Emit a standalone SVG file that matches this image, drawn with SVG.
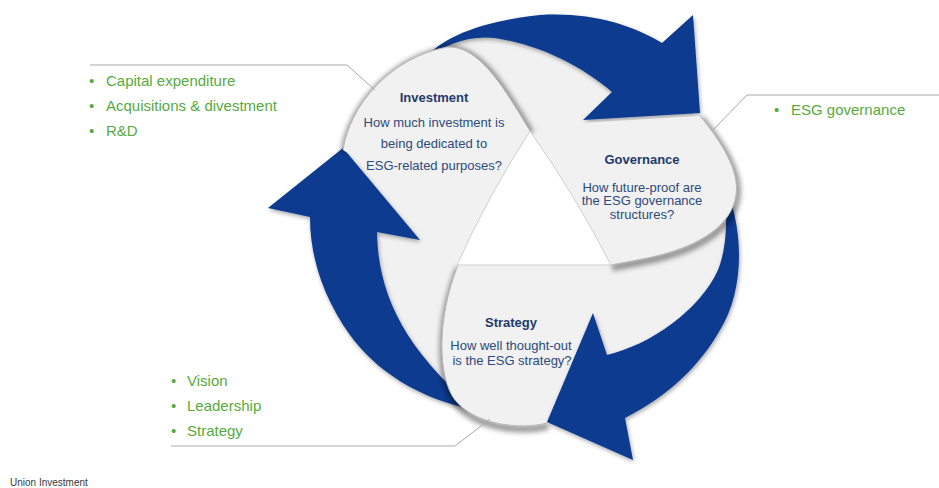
<svg xmlns="http://www.w3.org/2000/svg" width="939" height="488" viewBox="0 0 939 488">
  <style>
    .blue { fill: #0a3a90; filter: url(#arrowShadow); }
    .gray { fill: #f1f1f1; }
    .fold-shadow { fill: none; stroke: #000; stroke-opacity: 0.4; stroke-width: 7; filter: url(#soft); }
    .fold-edge { fill: none; stroke: #b9b9b9; stroke-width: 1; }
    .hole { fill: #ffffff; stroke: #cfcfcf; stroke-width: 1; }
    .lead { fill: none; stroke: #a9a9a9; stroke-width: 1; }
    text { font-family: "Liberation Sans", Arial, sans-serif; }
    .title { font-size: 13px; font-weight: bold; fill: #1f3a6e; text-anchor: middle; }
    .q { font-size: 13px; fill: #2c4a7e; text-anchor: middle; }
    .item { font-size: 15px; fill: #56ab3d; }
    .brand { font-size: 10px; fill: #3a3a3a; }
  </style>
  <defs>
    <filter id="soft" x="-20%" y="-20%" width="140%" height="140%">
      <feGaussianBlur stdDeviation="2.5"/>
    </filter>
    <filter id="arrowShadow" x="-10%" y="-10%" width="120%" height="120%">
      <feDropShadow dx="1" dy="2" stdDeviation="2" flood-color="#000" flood-opacity="0.35"/>
    </filter>
  </defs>

  <!-- gray body of the cycle, underneath everything -->
  <g id="cycle-base">
    <path class="gray" d="M405,70 L470,32 L540,30 L610,40 L660,70 L690,105 L722,180 L734,250 L715,320 L660,375 L600,405 L540,421 L475,413 L430,385 L385,340 L350,290 L343,230 L330,205 L343,158 L370,100 Z"/>
  </g>

  <!-- left arrow: from the strategy fold up to investment -->
  <g id="arrow-left">
    <path class="blue" d="M343,148 L420,240 L377,232 C378,290 400,345 476,410 C420,400 375,370 350,335 C325,300 310,260 310,217 L268,208 Z"/>
  </g>

  <!-- Strategy fold -->
  <g id="node-strategy">
    <path class="fold-shadow" transform="translate(1,3)" d="M547,423 C520,430 475,425 455,400 C438,378 436,320 458,265"/>
    <path class="gray" d="M458,265 L640,263 L700,246 L728,236 L736,262 L712,330 L640,392 L560,420 L547,423 C520,430 475,425 455,400 C438,378 436,320 458,265 Z"/>
    <path class="fold-edge" d="M547,423 C520,430 475,425 455,400 C438,378 436,320 458,265"/>
    <text class="title" x="511" y="327">Strategy</text>
    <text class="q" x="511" y="349.5">How well thought-out</text>
    <text class="q" x="512" y="364.5">is the ESG strategy?</text>
  </g>

  <!-- right arrow: from governance down to strategy -->
  <g id="arrow-right">
    <path class="blue" d="M722,180 C745,225 745,290 720,330 C700,365 670,395 625,418 L633,460 L547,422 L593,313 L607,355 C650,345 700,310 718,270 C728,245 728,210 722,180 Z"/>
  </g>

  <!-- top arrow: from investment over to governance -->
  <g id="arrow-top">
    <path class="blue" d="M426,58 C440,40 475,22 540,15 C590,12 630,24 662,43 L693,15 L700,113 L583,120 L612,92 C580,65 540,45 495,38 C468,35 445,45 426,58 Z"/>
  </g>

  <!-- Governance fold -->
  <g id="node-governance">
    <path class="fold-shadow" transform="translate(1,2.5)" d="M700,116 C720,140 740,170 736,195 C732,225 700,245 660,255 C640,260 625,262 611,265"/>
    <path class="gray" d="M700,116 C720,140 740,170 736,195 C732,225 700,245 660,255 C640,260 625,262 611,265 Q575,195 530,131 L583,123 Z"/>
    <path class="fold-edge" d="M700,116 C720,140 740,170 736,195 C732,225 700,245 660,255 C640,260 625,262 611,265"/>
    <text class="title" x="642" y="164">Governance</text>
    <text class="q" x="642" y="191.5">How future-proof  are</text>
    <text class="q" x="642" y="205">the ESG governance</text>
    <text class="q" x="642" y="218.5">structures?</text>
  </g>

  <!-- Investment fold -->
  <g id="node-investment">
    <path class="fold-shadow" transform="translate(1,2)" d="M343,150 C350,105 390,58 447,47 C480,45 505,90 530,131"/>
    <path class="gray" d="M343,150 C350,105 390,58 447,47 C480,45 505,90 530,131 L480,222 L420,200 Z"/>
    <path class="fold-edge" d="M343,150 C350,105 390,58 447,47 C480,45 505,90 530,131"/>
    <text class="title" x="434" y="102">Investment</text>
    <text class="q" x="434" y="126.5">How much  investment  is</text>
    <text class="q" x="434" y="148">being dedicated to</text>
    <text class="q" x="434" y="169.5">ESG-related purposes?</text>
  </g>

  <!-- open triangle in the middle -->
  <g id="center">
    <path class="hole" d="M530,131 Q575,195 611,265 L457,265 Q488,196 530,131 Z"/>
  </g>

  <!-- leader lines from the folds to their lists -->
  <g id="connectors">
    <path class="lead" d="M90,65 H347 L375,90"/>
    <path class="lead" d="M713,130 L747,95 H939"/>
    <path class="lead" d="M171,446 H455 L490,419"/>
  </g>

  <g id="list-investment">
    <text class="item" x="89" y="86">•</text>
    <text class="item" x="106" y="86">Capital expenditure</text>
    <text class="item" x="89" y="111">•</text>
    <text class="item" x="106" y="111">Acquisitions &amp; divestment</text>
    <text class="item" x="89" y="136">•</text>
    <text class="item" x="106" y="136">R&amp;D</text>
  </g>

  <g id="list-governance">
    <text class="item" x="774" y="115">•</text>
    <text class="item" x="791" y="115">ESG governance</text>
  </g>

  <g id="list-strategy">
    <text class="item" x="171" y="386">•</text>
    <text class="item" x="187" y="386">Vision</text>
    <text class="item" x="171" y="411">•</text>
    <text class="item" x="187" y="411">Leadership</text>
    <text class="item" x="171" y="436">•</text>
    <text class="item" x="187" y="436">Strategy</text>
  </g>

  <text class="brand" x="10" y="486">Union Investment</text>
</svg>
